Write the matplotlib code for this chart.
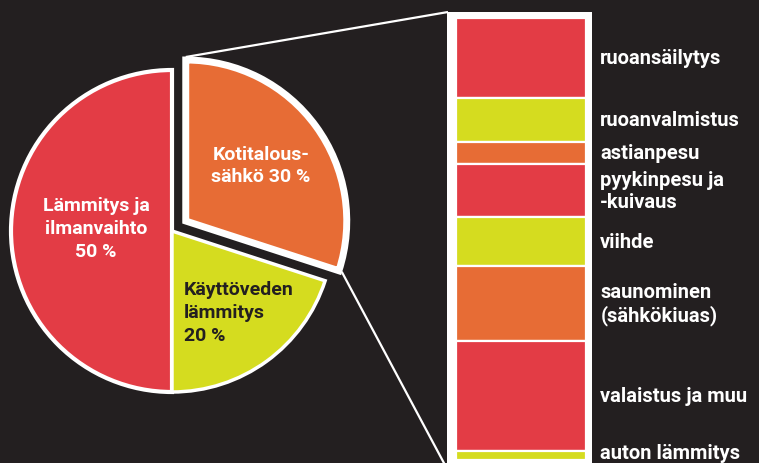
import matplotlib

matplotlib.use("Agg")
import matplotlib.pyplot as plt
import numpy as np
from matplotlib.patches import Rectangle

# pie: share of household energy use
pie_labels = ["Lämmitys ja\nilmanvaihto\n50 %", "Käyttöveden\nlämmitys\n20 %", "Kotitalous-\nsähkö 30 %"]
pie_values = [50, 20, 30]

# breakdown of household electricity (share of the bar, %)
bar_labels = ["ruoansäilytys", "ruoanvalmistus", "astianpesu", "pyykinpesu ja\n-kuivaus",
              "viihde", "saunominen\n(sähkökiuas)", "valaistus ja muu", "auton lämmitys"]
bar_values = [18, 10, 5, 12, 11, 17, 25, 2]

BG = "#231f20"
RED = "#e33c45"
YELLOW = "#d5dc1f"
ORANGE = "#e76c35"
bar_colors = [RED, YELLOW, ORANGE, RED, YELLOW, ORANGE, RED, YELLOW]

W, H = 759, 464
FONT = "Roboto"


def py(y: float) -> float:
    # pixel row (from top) to data y
    return H - y


fig = plt.figure(figsize=(W / 100, H / 100), dpi=100, facecolor=BG)
ax = fig.add_axes([0, 0, 1, 1])
ax.set_facecolor(BG)

wedges, _ = ax.pie(pie_values, colors=[RED, YELLOW, ORANGE], startangle=90, counterclock=True,
                   explode=[0, 0, 17], center=(172, py(232)), radius=161,
                   wedgeprops=dict(edgecolor="white", linewidth=3))
wedges[1].set_linewidth(2.5)
wedges[2].set_linewidth(5)
ax.set_xlim(0, W)
ax.set_ylim(0, H)
ax.set_aspect("equal")
ax.axis("off")

# connector lines from the exploded slice to the bar
ow = wedges[2]
cx, cy = ow.center
r = ow.r + 3
p_top = (cx + r * np.cos(np.radians(ow.theta2)), cy + r * np.sin(np.radians(ow.theta2)))
p_bot = (cx + r * np.cos(np.radians(ow.theta1)), cy + r * np.sin(np.radians(ow.theta1)))
ax.plot([p_top[0], 448], [p_top[1], py(13)], color="white", lw=1.6, solid_capstyle="butt")
ax.plot([p_bot[0], 445], [p_bot[1], py(466)], color="white", lw=1.6, solid_capstyle="butt")

# white frame behind the bar
ax.add_patch(Rectangle((447, py(470)), 145, 457, facecolor="white", edgecolor="none"))

# pie labels
lbl = dict(fontsize=14, fontweight="bold", family=FONT, va="center", linespacing=1.35)
ax.text(96, py(229), pie_labels[0], color="white", ha="center", **lbl)
ax.text(184, py(313), pie_labels[1], color=BG, ha="left", **lbl)
ax.text(261, py(166), pie_labels[2], color="white", ha="center", **lbl)

# stacked bar
bax = fig.add_axes([456 / W, py(461) / H, 130 / W, 442 / H])
bottoms = np.concatenate([[0], np.cumsum(bar_values)[:-1]])
bax.bar(0.5, bar_values, width=1, bottom=bottoms, color=bar_colors, edgecolor="white", linewidth=1.6)
bax.set_xlim(0, 1)
bax.set_ylim(sum(bar_values), 0)
bax.axis("off")

for label, b, v in zip(bar_labels, bottoms, bar_values):
    # keep the last label inside the picture
    y = min(b + v / 2, sum(bar_values) - 1.8)
    bax.text(1.11, y, label, transform=bax.get_yaxis_transform(), color="white",
             fontsize=14.5, fontweight="bold", family=FONT, ha="left", va="center",
             linespacing=1.2, clip_on=False)

fig.savefig("out.png", dpi=100, facecolor=BG)
